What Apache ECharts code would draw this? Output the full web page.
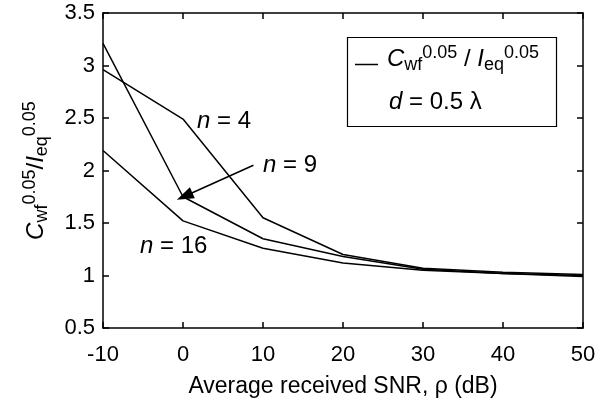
<!DOCTYPE html>
<html>
<head>
<meta charset="utf-8">
<script src="https://cdn.jsdelivr.net/npm/echarts@6/dist/echarts.min.js"></script>
<style>html,body{margin:0;padding:0;background:#fff}#c{width:608px;height:403px}</style>
</head>
<body>
<div id="c"></div>
<script>
var snr = [-10, 0, 10, 20, 30, 40, 50];
var n4  = [2.96, 2.49, 1.55, 1.20, 1.07, 1.03, 1.01];
var n9  = [3.21, 1.75, 1.35, 1.18, 1.06, 1.02, 1.00];
var n16 = [2.19, 1.52, 1.26, 1.12, 1.05, 1.02, 0.99];
var xTicks = [-10, 0, 10, 20, 30, 40, 50];
var yTicks = [0.5, 1, 1.5, 2, 2.5, 3, 3.5];
var arrowFrom = [8.8, 2.05];
var arrowTo = [0.2, 1.755];

var FONT = '"Liberation Sans", Arial, Helvetica, sans-serif';
function pairs(v){ return snr.map(function(x,i){ return [x, v[i]]; }); }
var rich = {
  i:   {fontFamily: FONT, fontSize: 24, fontStyle: 'italic', color: '#000', lineHeight: 30},
  n:   {fontFamily: FONT, fontSize: 24, color: '#000', lineHeight: 30},
  sub: {fontFamily: FONT, fontSize: 18, color: '#000', verticalAlign: 'bottom', lineHeight: 16},
  sup: {fontFamily: FONT, fontSize: 18, color: '#000', verticalAlign: 'top', lineHeight: 16}
};
function lineSeries(name, v, extra){
  var s = {
    name: name, type: 'line', data: pairs(v), symbol: 'none', silent: true,
    lineStyle: {color: '#000', width: 1.5}, z: 3
  };
  if (extra) for (var k in extra) s[k] = extra[k];
  return s;
}
function axisBase(){
  return {
    type: 'value',
    axisLine: {show: true, onZero: false, lineStyle: {color: '#000', width: 1.5}},
    axisTick: {show: true, inside: true, length: 6, lineStyle: {color: '#000', width: 1.5}},
    splitLine: {show: false}
  };
}
var chart = echarts.init(document.getElementById('c'), null, {renderer: 'canvas'});
chart.setOption({
  animation: false,
  backgroundColor: '#fff',
  grid: {left: 103, top: 13, right: 25, bottom: 75},
  xAxis: [
    Object.assign(axisBase(), {
      min: -10, max: 50, interval: 10, position: 'bottom',
      axisLabel: {fontFamily: FONT, fontSize: 22, color: '#000', margin: 16,
        formatter: function(v){ return xTicks.indexOf(v) >= 0 ? String(v) : ''; }},
      name: 'Average received SNR, \u03c1 (dB)', nameLocation: 'middle', nameGap: 47,
      nameTextStyle: {fontFamily: FONT, fontSize: 23, color: '#000'}
    }),
    Object.assign(axisBase(), {
      min: -10, max: 50, interval: 10, position: 'top', axisLabel: {show: false}
    })
  ],
  yAxis: [
    Object.assign(axisBase(), {
      min: 0.5, max: 3.5, interval: 0.5, position: 'left',
      axisLabel: {fontFamily: FONT, fontSize: 22, color: '#000', margin: 8,
        formatter: function(v){ return yTicks.indexOf(v) >= 0 ? String(v) : ''; }},
      name: '{i|C}{sub|wf}{sup|0.05}{n|/}{i|I}{sub|eq}{sup|0.05}',
      nameLocation: 'middle', nameRotate: 90, nameGap: 52,
      nameTextStyle: {rich: rich}
    }),
    Object.assign(axisBase(), {
      min: 0.5, max: 3.5, interval: 0.5, position: 'right', axisLabel: {show: false}
    })
  ],
  series: [
    lineSeries('n4', n4),
    lineSeries('n9', n9, {
      markLine: {
        silent: true, symbol: ['none', 'triangle'], symbolSize: [12, 17],
        lineStyle: {color: '#000', width: 1.5, type: 'solid'},
        label: {show: false},
        data: [[{coord: arrowFrom}, {coord: arrowTo}]]
      }
    }),
    lineSeries('n16', n16)
  ],
  graphic: [
    {type: 'text', x: 197, y: 106, style: {text: '{i|n}{n| = 4}', rich: rich}},
    {type: 'text', x: 263, y: 150, style: {text: '{i|n}{n| = 9}', rich: rich}},
    {type: 'text', x: 140, y: 231, style: {text: '{i|n}{n| = 16}', rich: rich}},
    {type: 'rect', shape: {x: 347.5, y: 37.5, width: 209, height: 89},
      style: {fill: '#fff', stroke: '#000', lineWidth: 1.2}, z: 10},
    {type: 'line', shape: {x1: 355, y1: 64.5, x2: 378, y2: 64.5},
      style: {stroke: '#000', lineWidth: 1.5}, z: 11},
    {type: 'text', x: 387, y: 44, z: 11,
      style: {text: '{i|C}{sub|wf}{sup|0.05}{n| / }{i|I}{sub|eq}{sup|0.05}', rich: rich}},
    {type: 'text', x: 389, y: 87, z: 11,
      style: {text: '{i|d}{n| = 0.5 \u03bb}', rich: rich}}
  ]
});
</script>
</body>
</html>
